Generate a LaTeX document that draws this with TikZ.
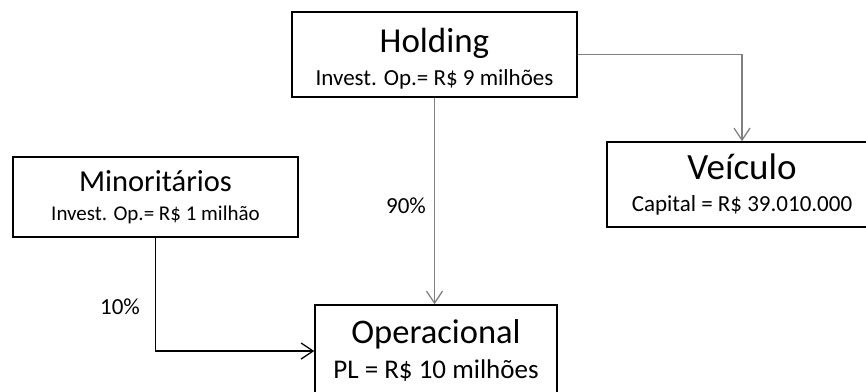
\documentclass[tikz,border=0pt]{standalone}
\usepackage{fontspec}
\setmainfont{Carlito}
\usetikzlibrary{arrows.meta,positioning}
\definecolor{cinzaS}{RGB}{128,128,128}
\newcommand{\tit}[2]{{\fontsize{#1}{#1}\selectfont #2}}
\tikzset{
  caixa/.style={rectangle, draw=black, line width=1.5pt, fill=white, align=center,
                inner sep=0pt, minimum width=#1},
  seta/.style={-{Straight Barb[length=12pt,width=16pt,line width=1.3pt]}, line width=1.5pt, draw=cinzaS},
  rotulo/.style={font=\fontsize{23}{26}\selectfont},
}

\begin{document}
\begin{tikzpicture}[x=1pt,y=-1pt]
        \useasboundingbox (0,0) rectangle (866,391);
        \clip (0,0) rectangle (866,391);
        \node[caixa=285pt, minimum height=85pt, font=\fontsize{23}{33}\selectfont] (hold) at (434.5,54.5)
             {\rule{0pt}{32pt}\tit{35}{Holding}\\Invest. Op.= R\$ 9 milhões};
        \node[caixa=285pt, minimum height=80pt, font=\fontsize{21}{29}\selectfont] (mino) at (155.5,197)
             {\tit{30.5}{Minoritários}\\Invest. Op.= R\$ 1 milhão};
        \node[caixa=270pt, minimum height=85pt, font=\fontsize{23}{32}\selectfont] (veic) at (742,184.5)
             {\tit{37}{Veículo}\\Capital = R\$ 39.010.000};
        \node[caixa=242pt, minimum height=92pt, font=\fontsize{27}{35}\selectfont] (oper) at (436,351)
             {\tit{34.5}{Operacional}\\PL = R\$ 10 milhões};
        \draw[seta] (hold.east) -| (veic.north);
        \draw[seta] (hold.south) -- (hold.south |- oper.north);
        \draw[seta, draw=black] (mino.south) |- (oper.west);
        \node[rotulo] (p90) at (406,206) {90\%};
        \node[rotulo] (p10) at (120,307) {10\%};
      \end{tikzpicture}
\end{document}
